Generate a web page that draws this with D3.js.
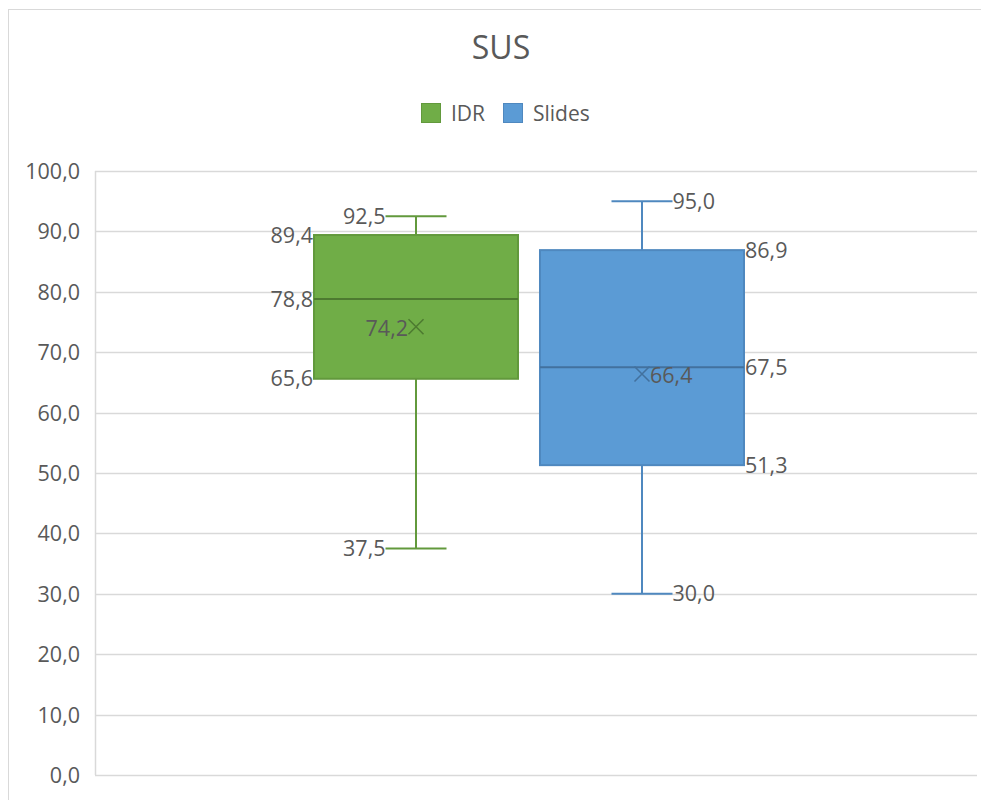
<!DOCTYPE html>
<html>
<head>
<meta charset="utf-8">
<script src="https://cdn.jsdelivr.net/npm/d3@7"></script>
<style>
  html, body { margin: 0; padding: 0; background: #fff; }
  svg { display: block; font-family: "Open Sans", "Noto Sans", sans-serif; }
</style>
</head>
<body>
<svg id="chart" width="981" height="800"></svg>
<script>
// ---- data ----
const title = "SUS";
const series = ["IDR", "Slides"];
const mins = [37.5, 30.0];
const q1s = [65.6, 51.3];
const medians = [78.8, 67.5];
const q3s = [89.4, 86.9];
const maxs = [92.5, 95.0];
const means = [74.2, 66.4];
const yTicks = [0, 10, 20, 30, 40, 50, 60, 70, 80, 90, 100];

// ---- styles ----
const fills = ["#70AD47", "#5B9BD5"];
const strokes = ["#62993c", "#4f88bf"];
const darks = ["#4d7a30", "#42719e"];
const labelColor = "#595959";
const gridColor = "#d9d9d9";
const fmt = v => d3.format(".1f")(v).replace(".", ",");
const fs = 21.5;

const svg = d3.select("#chart");

// chart border
svg.append("rect")
  .attr("x", 8.5).attr("y", 9.5).attr("width", 990).attr("height", 800)
  .attr("fill", "none").attr("stroke", gridColor).attr("stroke-width", 1);

const plotL = 95, plotR = 977, plotT = 171, plotB = 775;

const y = d3.scaleLinear().domain([0, 100]).range([plotB, plotT]);
const x = d3.scaleBand().domain(series).range([303, 755])
  .paddingInner(0.0973).paddingOuter(0.0487);

// title
svg.append("text")
  .attr("x", 501).attr("y", 59)
  .attr("text-anchor", "middle")
  .attr("font-size", 32)
  .attr("fill", labelColor)
  .text(title);

// legend
const legendX = [421, 503];
series.forEach((s, i) => {
  const g = svg.append("g");
  g.append("rect")
    .attr("x", legendX[i] + 0.5).attr("y", 103.5)
    .attr("width", 19).attr("height", 19)
    .attr("fill", fills[i]).attr("stroke", strokes[i]);
  g.append("text")
    .attr("x", legendX[i] + 30).attr("y", 113)
    .attr("dominant-baseline", "central")
    .attr("font-size", 21)
    .attr("fill", labelColor)
    .text(s);
});

// gridlines
svg.append("g")
  .selectAll("line")
  .data(yTicks)
  .join("line")
  .attr("x1", plotL).attr("x2", plotR)
  .attr("y1", d => Math.round(y(d)) + 0.5)
  .attr("y2", d => Math.round(y(d)) + 0.5)
  .attr("stroke", gridColor).attr("stroke-width", 1.5);

// y axis line
svg.append("line")
  .attr("x1", plotL + 0.5).attr("x2", plotL + 0.5)
  .attr("y1", y(100)).attr("y2", y(0))
  .attr("stroke", gridColor).attr("stroke-width", 1.5);

// y axis labels
const yAxis = d3.axisLeft(y).tickValues(yTicks).tickFormat(fmt).tickSize(0).tickPadding(0);
const ya = svg.append("g").attr("transform", `translate(${80},0)`).call(yAxis);
ya.select(".domain").remove();
ya.selectAll("text")
  .attr("font-size", fs)
  .attr("font-family", "\"Open Sans\", sans-serif")
  .attr("fill", labelColor)
  .attr("dy", "0.35em");

// boxes
const capW = 61;
series.forEach((s, i) => {
  const g = svg.append("g");
  const x0 = x(s), bw = x.bandwidth(), cx = x0 + bw / 2;
  // whiskers
  g.append("line").attr("x1", cx).attr("x2", cx)
    .attr("y1", y(maxs[i])).attr("y2", y(q3s[i]))
    .attr("stroke", strokes[i]).attr("stroke-width", 2);
  g.append("line").attr("x1", cx).attr("x2", cx)
    .attr("y1", y(q1s[i])).attr("y2", y(mins[i]))
    .attr("stroke", strokes[i]).attr("stroke-width", 2);
  g.append("line").attr("x1", cx - capW / 2).attr("x2", cx + capW / 2)
    .attr("y1", y(maxs[i])).attr("y2", y(maxs[i]))
    .attr("stroke", strokes[i]).attr("stroke-width", 2);
  g.append("line").attr("x1", cx - capW / 2).attr("x2", cx + capW / 2)
    .attr("y1", y(mins[i])).attr("y2", y(mins[i]))
    .attr("stroke", strokes[i]).attr("stroke-width", 2);
  // box
  g.append("rect")
    .attr("x", x0).attr("y", y(q3s[i]))
    .attr("width", bw).attr("height", y(q1s[i]) - y(q3s[i]))
    .attr("fill", fills[i]).attr("stroke", strokes[i]).attr("stroke-width", 2);
  // median
  g.append("line").attr("x1", x0).attr("x2", x0 + bw)
    .attr("y1", y(medians[i])).attr("y2", y(medians[i]))
    .attr("stroke", darks[i]).attr("stroke-width", 2);
  // mean marker
  const my = y(means[i]), r = 7.5;
  g.append("path")
    .attr("d", `M${cx - r},${my - r}L${cx + r},${my + r}M${cx - r},${my + r}L${cx + r},${my - r}`)
    .attr("stroke", darks[i]).attr("stroke-width", 1.5).attr("fill", "none");

  // labels
  const left = i === 0;
  const anchor = left ? "end" : "start";
  const capX = left ? cx - capW / 2 : cx + capW / 2;
  const boxX = left ? x0 - 1 : x0 + bw + 1;
  const markX = left ? cx - 8 : cx + 8;
  const labels = [
    { v: maxs[i], x: capX },
    { v: mins[i], x: capX },
    { v: q3s[i], x: boxX },
    { v: q1s[i], x: boxX },
    { v: medians[i], x: boxX },
    { v: means[i], x: markX, dy: 2 }
  ];
  labels.forEach(l => {
    g.append("text")
      .attr("x", l.x).attr("y", y(l.v) + (l.dy || 0))
      .attr("dy", "0.35em")
      .attr("text-anchor", anchor)
      .attr("font-size", fs)
      .attr("fill", labelColor)
      .text(fmt(l.v));
  });
});
</script>
</body>
</html>
